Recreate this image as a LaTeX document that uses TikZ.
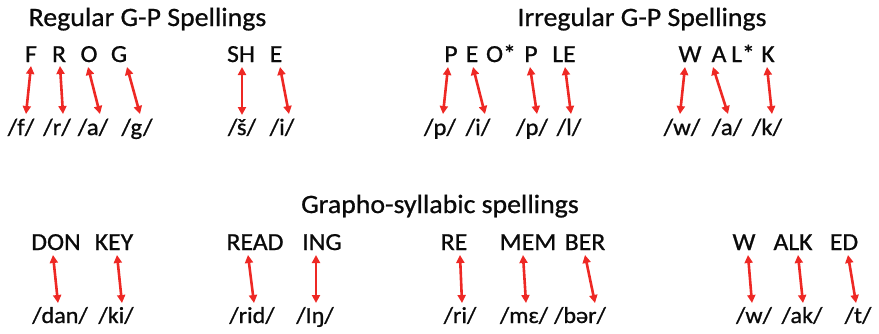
\documentclass[tikz,border=0pt]{standalone}
\usepackage{fontspec}
\setmainfont[FakeStretch=1.05,FakeBold=0.8]{Carlito}
\usetikzlibrary{arrows.meta}
\definecolor{arrred}{RGB}{238,40,36}
\definecolor{txt}{RGB}{10,10,10}
\tikzset{
  ttl/.style={anchor=base, inner sep=0pt, text=txt, font=\fontsize{26.5}{29}\selectfont},
  gr/.style={anchor=base, inner sep=0pt, text=txt, font=\fontsize{24.5}{27}\selectfont},
  grb/.style={anchor=base, inner sep=0pt, text=txt, font=\fontsize{24.5}{27}\selectfont},
  ph/.style={anchor=base, inner sep=0pt, text=txt, font=\fontsize{23.5}{26}\selectfont},
  phb/.style={anchor=base, inner sep=0pt, text=txt, font=\fontsize{23}{26}\selectfont},
  link/.style={draw=arrred, line width=2.6pt,
    {Triangle[length=8pt,width=8pt]}-{Triangle[length=8pt,width=8pt]}}
}
\newcommand{\lnk}[5]{%
  \coordinate (#1t) at (#2,#3);
  \coordinate (#1b) at (#4,#5);
  \draw[link] (#1t) -- (#1b);}
\begin{document}
\begin{tikzpicture}[x=1pt,y=-1pt]
\useasboundingbox (0,0) rectangle (879,333);
% titles
\node[ttl] (t1) at (147.5,26) {Regular G-P Spellings};
\node[ttl] (t2) at (642,26) {Irregular G-P Spellings};
\node[ttl] (t3) at (440,213) {Grapho-syllabic spellings};
% row 1 graphemes
\node[gr] (gF) at (31,62) {F};
\node[gr] (gR) at (59,62) {R};
\node[gr] (gO) at (89,62) {O};
\node[gr] (gG) at (119,62) {G};
\node[gr] (gSH) at (241,62) {SH};
\node[gr] (gE) at (276,62) {E};
\node[gr] (gP1) at (451,62) {P};
\node[gr] (gE2) at (472,62) {E};
\node[gr] (gO2) at (501,62) {O*};
\node[gr] (gP2) at (531,62) {P};
\node[gr] (gLE) at (564,62) {LE};
\node[gr] (gW) at (690,62) {W};
\node[gr] (gA) at (719,62) {A};
\node[gr] (gL) at (743,62) {L*};
\node[gr] (gK) at (768,62) {K};
% row 1 phonemes
\node[ph] (pf) at (21,135) {/f/};
\node[ph] (pr) at (57,135) {/r/};
\node[ph] (pa) at (93,135) {/a/};
\node[ph] (pg) at (137,135) {/g/};
\node[ph] (psh) at (242,135) {/š/};
\node[ph] (pi) at (282,135) {/i/};
\node[ph] (pp1) at (440,135) {/p/};
\node[ph] (pi2) at (478,135) {/i/};
\node[ph] (pp2) at (532,135) {/p/};
\node[ph] (pl) at (569,135) {/l/};
\node[ph] (pw) at (682,135) {/w/};
\node[ph] (pa2) at (727,135) {/a/};
\node[ph] (pk) at (767,135) {/k/};
% row 1 links
\lnk{a1}{31}{66}{26}{114}
\lnk{a2}{60}{66}{63}{114}
\lnk{a3}{88}{67}{100}{114}
\lnk{a4}{127}{67}{140}{114}
\lnk{a5}{242}{67}{242}{115}
\lnk{a6}{280}{67}{289}{114}
\lnk{a7}{448}{67}{443}{114}
\lnk{a8}{473}{67}{485}{114}
\lnk{a9}{530}{67}{537}{114}
\lnk{a10}{565}{67}{571}{114}
\lnk{a11}{685}{67}{680}{114}
\lnk{a12}{713}{67}{728}{114}
\lnk{a13}{767}{67}{772}{114}
% row 2 graphemes
\node[grb] (gDON) at (56,250) {DON};
\node[grb] (gKEY) at (114,250) {KEY};
\node[grb] (gREAD) at (255,250) {READ};
\node[grb] (gING) at (322,250) {ING};
\node[grb] (gRE) at (454,250) {RE};
\node[grb] (gMEM) at (528,250) {MEM};
\node[grb] (gBER) at (585,250) {BER};
\node[grb] (gW2) at (744,250) {W};
\node[grb] (gALK) at (793,250) {ALK};
\node[grb] (gED) at (844,250) {ED};
% row 2 phonemes
\node[phb] (pdan) at (60,323) {/dan/};
\node[phb] (pki) at (116,323) {/ki/};
\node[phb] (prid) at (252,323) {/rid/};
\node[phb] (ping) at (315,323) {/Iŋ/};
\node[phb] (pri) at (460,323) {/ri/};
\node[phb] (pme) at (524,323) {/mɛ/};
\node[phb] (pber) at (580,323) {/bər/};
\node[phb] (pw2) at (754,323) {/w/};
\node[phb] (pak) at (802,323) {/ak/};
\node[phb] (pt) at (858,323) {/t/};
% row 2 links
\lnk{b1}{53}{255}{58}{303}
\lnk{b2}{117}{255}{122}{303}
\lnk{b3}{248}{255}{254}{303}
\lnk{b4}{316}{255}{316}{303}
\lnk{b5}{460}{255}{462}{303}
\lnk{b6}{523}{255}{526}{303}
\lnk{b7}{585}{255}{595}{303}
\lnk{b8}{748}{255}{752}{303}
\lnk{b9}{798}{255}{803}{303}
\lnk{b10}{848}{255}{856}{303}
\end{tikzpicture}
\end{document}
